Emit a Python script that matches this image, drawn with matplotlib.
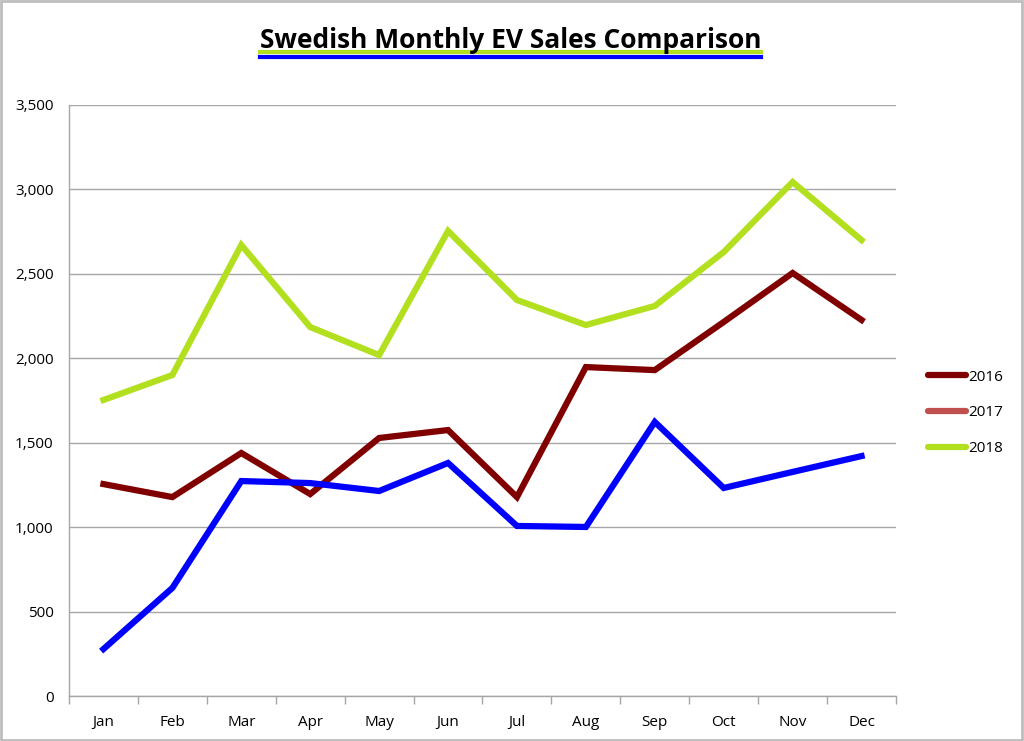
import matplotlib; matplotlib.use("Agg")
import matplotlib.pyplot as plt
from matplotlib.lines import Line2D
from matplotlib.patches import Rectangle
from matplotlib.ticker import FuncFormatter, FixedLocator, NullFormatter

months = ["Jan", "Feb", "Mar", "Apr", "May", "Jun", "Jul", "Aug", "Sep", "Oct", "Nov", "Dec"]
sales_2016 = [1255, 1178, 1439, 1196, 1528, 1575, 1178, 1948, 1930, 2215, 2505, 2227]
sales_2017 = [278, 640, 1273, 1261, 1214, 1380, 1007, 1001, 1623, 1232, 1327, 1421]
sales_2018 = [1753, 1901, 2671, 2185, 2019, 2754, 2345, 2197, 2310, 2629, 3044, 2700]
legend_years = ["2016", "2017", "2018"]

C16, C17_LINE, C17_LEG, C18 = "#800000", "#0000ff", "#c0504d", "#b3e01e"
GRID = "#a6a6a6"

plt.rcParams["font.family"] = ["Open Sans", "DejaVu Sans"]

fig = plt.figure(figsize=(10.24, 7.41), dpi=100)
ax = fig.add_axes([69/1024, 45/741, 827/1024, 591/741])

x = list(range(len(months)))
lw = 4.5
ax.plot(x, sales_2016, color=C16, lw=lw, solid_joinstyle="miter", zorder=3)
ax.plot(x, sales_2017, color=C17_LINE, lw=lw, solid_joinstyle="miter", zorder=3)
ax.plot(x, sales_2018, color=C18, lw=lw, solid_joinstyle="miter", zorder=3)

ax.set_xlim(-0.5, 11.5)
ax.set_ylim(0, 3500)
ax.set_yticks(range(0, 3501, 500))
ax.yaxis.set_major_formatter(FuncFormatter(lambda v, p: f"{int(v):,}"))
ax.yaxis.grid(True, color=GRID, lw=1)
ax.set_axisbelow(True)
ax.tick_params(axis="y", length=0, pad=11, labelsize=11)

# category labels centered, tick marks on category boundaries
ax.set_xticks(x)
ax.set_xticklabels(months)
ax.tick_params(axis="x", which="major", length=0, pad=14, labelsize=11)
ax.xaxis.set_minor_locator(FixedLocator([i - 0.5 for i in range(13)]))
ax.xaxis.set_minor_formatter(NullFormatter())
ax.tick_params(axis="x", which="minor", length=6, color=GRID, width=1)

for s in ("top", "right"):
    ax.spines[s].set_visible(False)
for s in ("left", "bottom"):
    ax.spines[s].set_color(GRID)
    ax.spines[s].set_linewidth(1)

handles = [Line2D([], [], color=c, lw=4.5, solid_capstyle="round") for c in (C16, C17_LEG, C18)]
fig.legend(handles, legend_years, loc="center left", bbox_to_anchor=(0.893, 0.443),
           frameon=False, fontsize=11, handlelength=2.5, handletextpad=0.1,
           labelspacing=1.35)

title = fig.text(0.4985, 0.946, "Swedish Monthly EV Sales Comparison", ha="center", va="center",
                 fontsize=19, fontweight="bold", color="black")

# double underline (green over blue) under the title
fig.canvas.draw()
bb = title.get_window_extent().transformed(fig.transFigure.inverted())
fig.add_artist(Line2D([bb.x0, bb.x1], [(741-52)/741]*2, color=C18, lw=3, transform=fig.transFigure))
fig.add_artist(Line2D([bb.x0, bb.x1], [(741-56.5)/741]*2, color=C17_LINE, lw=3, transform=fig.transFigure))

fig.add_artist(Rectangle((0.001, 0.002), 0.997, 0.996, transform=fig.transFigure,
                         fill=False, ec="#bdbdbd", lw=2))

fig.savefig("out.png", dpi=100)
